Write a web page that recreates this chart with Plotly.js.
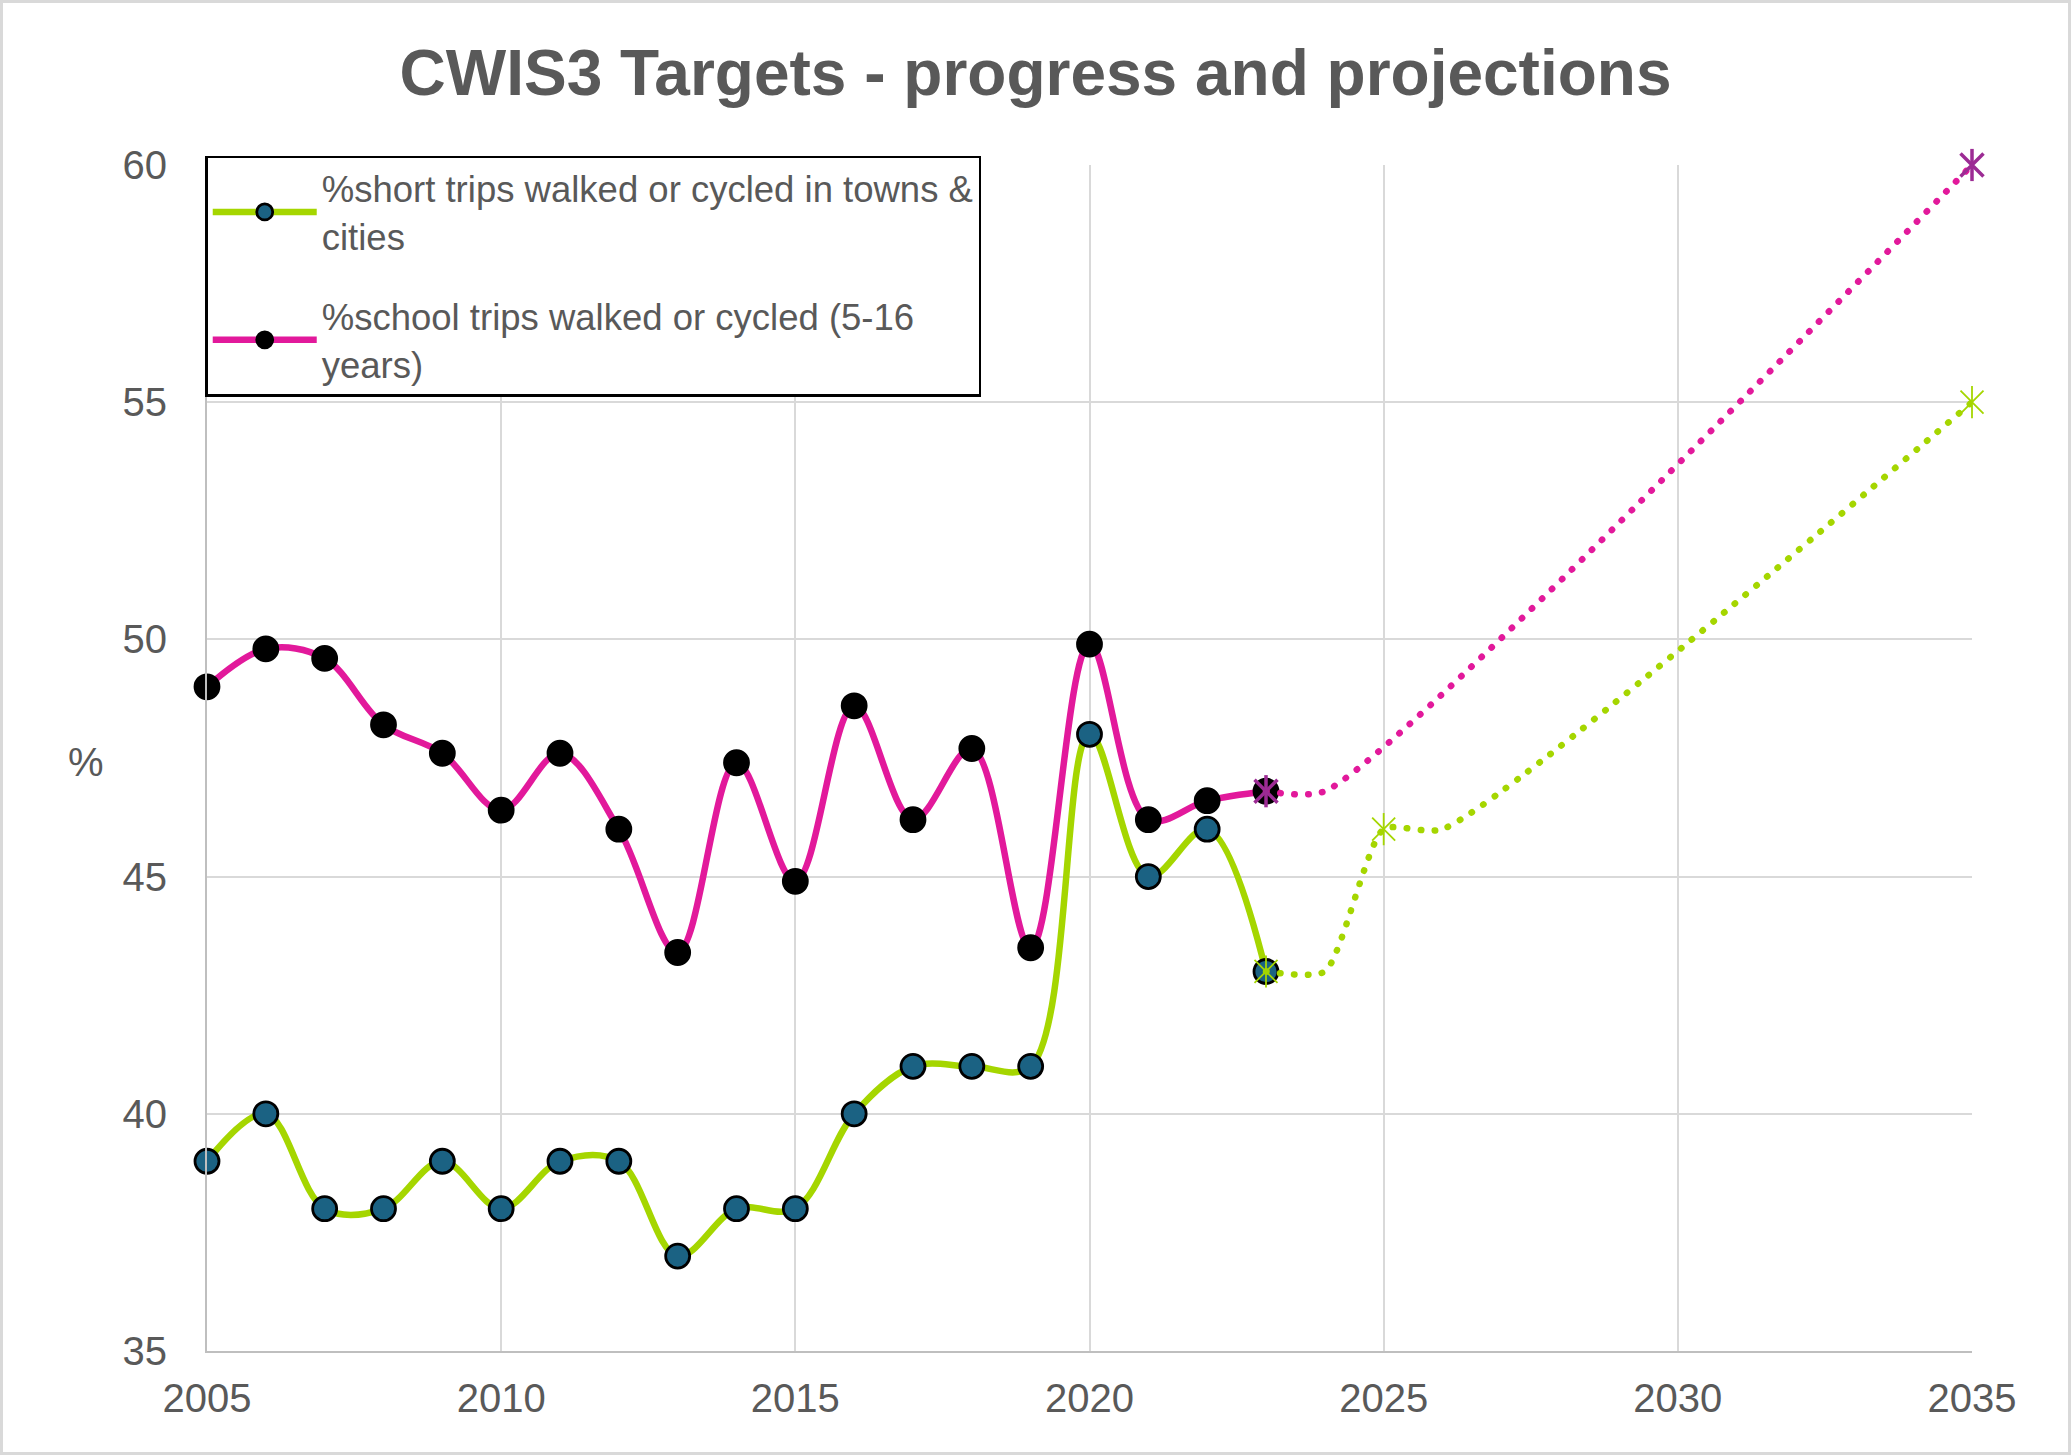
<!DOCTYPE html>
<html>
<head>
<meta charset="utf-8">
<script src="https://cdn.plot.ly/plotly-3.0.1.min.js"></script>
<style>
  html, body { margin: 0; padding: 0; background: #ffffff; }
  #wrap { position: relative; width: 2071px; height: 1455px; }
  #frame { position: absolute; left: 0; top: 0; width: 2071px; height: 1455px; box-sizing: border-box; border: 3px solid #d9d9d9; pointer-events: none; }
  .scatterlayer .js-line { stroke-linecap: round; stroke-linejoin: round; }
</style>
</head>
<body>
<div id="wrap"><div id="chart"></div><div id="frame"></div></div>
<script>
// ---- data ----
const years = [2005,2006,2007,2008,2009,2010,2011,2012,2013,2014,2015,2016,2017,2018,2019,2020,2021,2022,2023];
const shortTrips = [39,40,38,38,39,38,39,39,37,38,38,40,41,41,41,48,45,46,43];
const schoolTrips = [49.0,49.8,49.6,48.2,47.6,46.4,47.6,46.0,43.4,47.4,44.9,48.6,46.2,47.7,43.5,49.9,46.2,46.6,46.8];

const shortProjYears = [2023,2024,2025,2026,2035];
const shortProj = [43,43,46,46,55];
const schoolProjYears = [2023,2024,2035];
const schoolProj = [46.8,46.8,60];

const shortTargetYears = [2023,2025,2035];
const shortTargets = [43,46,55];
const schoolTargetYears = [2023,2035];
const schoolTargets = [46.8,60];

const shortName = '%short trips walked or cycled in towns &<br>cities';
const schoolName = '%school trips walked or cycled (5-16<br>years)';

const GREEN = '#a5d600';
const PINK = '#e2199b';
const BLUE = '#1b6283';
const PURPLE = '#9c2b94';
const TEXT = '#595959';

const traces = [
  {
    x: years, y: shortTrips, name: shortName, type: 'scatter', mode: 'lines+markers',
    line: {color: GREEN, width: 6.5, shape: 'spline', smoothing: 1},
    marker: {color: BLUE, size: 24, line: {color: '#000000', width: 2.8}},
    cliponaxis: false, legendgroup: 'a'
  },
  {
    x: years, y: schoolTrips, name: schoolName, type: 'scatter', mode: 'lines+markers',
    line: {color: PINK, width: 6.5, shape: 'spline', smoothing: 1},
    marker: {color: '#000000', size: 24, line: {color: '#000000', width: 2.8}},
    cliponaxis: false, legendgroup: 'b'
  },
  {
    x: shortProjYears, y: shortProj, type: 'scatter', mode: 'lines', showlegend: false,
    line: {color: GREEN, width: 6.5, dash: '0.5px,13.5px', shape: 'spline', smoothing: 0.6},
    cliponaxis: false, hoverinfo: 'skip'
  },
  {
    x: schoolProjYears, y: schoolProj, type: 'scatter', mode: 'lines', showlegend: false,
    line: {color: PINK, width: 6.5, dash: '0.5px,13.5px', shape: 'spline', smoothing: 0.6},
    cliponaxis: false, hoverinfo: 'skip'
  },
  {
    x: shortTargetYears, y: shortTargets, type: 'scatter', mode: 'markers', showlegend: false,
    marker: {symbol: 'x-thin-open', size: 23, color: GREEN, line: {color: GREEN, width: 1.8}},
    cliponaxis: false
  },
  {
    x: shortTargetYears, y: shortTargets, type: 'scatter', mode: 'markers', showlegend: false,
    marker: {symbol: 'line-ns-open', size: 23, color: GREEN, line: {color: GREEN, width: 1.8}},
    cliponaxis: false
  },
  {
    x: schoolTargetYears, y: schoolTargets, type: 'scatter', mode: 'markers', showlegend: false,
    marker: {symbol: 'x-thin-open', size: 23, color: PURPLE, line: {color: PURPLE, width: 3.5}},
    cliponaxis: false
  },
  {
    x: schoolTargetYears, y: schoolTargets, type: 'scatter', mode: 'markers', showlegend: false,
    marker: {symbol: 'line-ns-open', size: 23, color: PURPLE, line: {color: PURPLE, width: 3.5}},
    cliponaxis: false
  }
];

const layout = {
  width: 2071, height: 1455,
  margin: {l: 207, r: 99, t: 165, b: 104},
  paper_bgcolor: '#ffffff', plot_bgcolor: '#ffffff',
  font: {family: 'Liberation Sans, Arial, sans-serif', color: TEXT},
  title: {
    text: '<b>CWIS3 Targets - progress and projections</b>',
    font: {family: 'Liberation Sans, Arial, sans-serif', size: 64, color: TEXT},
    x: 0.5, xanchor: 'center', y: 1 - 73/1455, yanchor: 'middle', yref: 'container'
  },
  xaxis: {
    range: [2005, 2035], tickmode: 'linear', tick0: 2005, dtick: 5,
    showgrid: true, gridcolor: '#d9d9d9', gridwidth: 2,
    showline: true, linecolor: '#bfbfbf', linewidth: 2,
    zeroline: false, ticks: '', ticklabelstandoff: 11,
    tickfont: {size: 40, color: TEXT}
  },
  yaxis: {
    range: [35, 60], tickmode: 'linear', tick0: 35, dtick: 5,
    showgrid: true, gridcolor: '#d9d9d9', gridwidth: 2,
    showline: true, linecolor: '#bfbfbf', linewidth: 2,
    zeroline: false, ticks: '', ticklabelstandoff: 30,
    tickfont: {size: 40, color: TEXT}
  },
  legend: {
    x: -0.001, y: 1.008, xanchor: 'left', yanchor: 'top',
    bgcolor: '#ffffff', bordercolor: '#000000', borderwidth: 2.5,
    font: {size: 36.5, color: TEXT}, tracegroupgap: 30,
    traceorder: 'grouped', itemsizing: 'trace', itemwidth: 104
  },
  annotations: [{
    text: '%', xref: 'paper', yref: 'paper', x: (86 - 207) / 1765, y: 0.497,
    xanchor: 'center', yanchor: 'middle', showarrow: false,
    font: {size: 40, color: TEXT}
  }],
  showlegend: true
};

Plotly.newPlot('chart', traces, layout, {displayModeBar: false, staticPlot: true});
</script>
</body>
</html>
